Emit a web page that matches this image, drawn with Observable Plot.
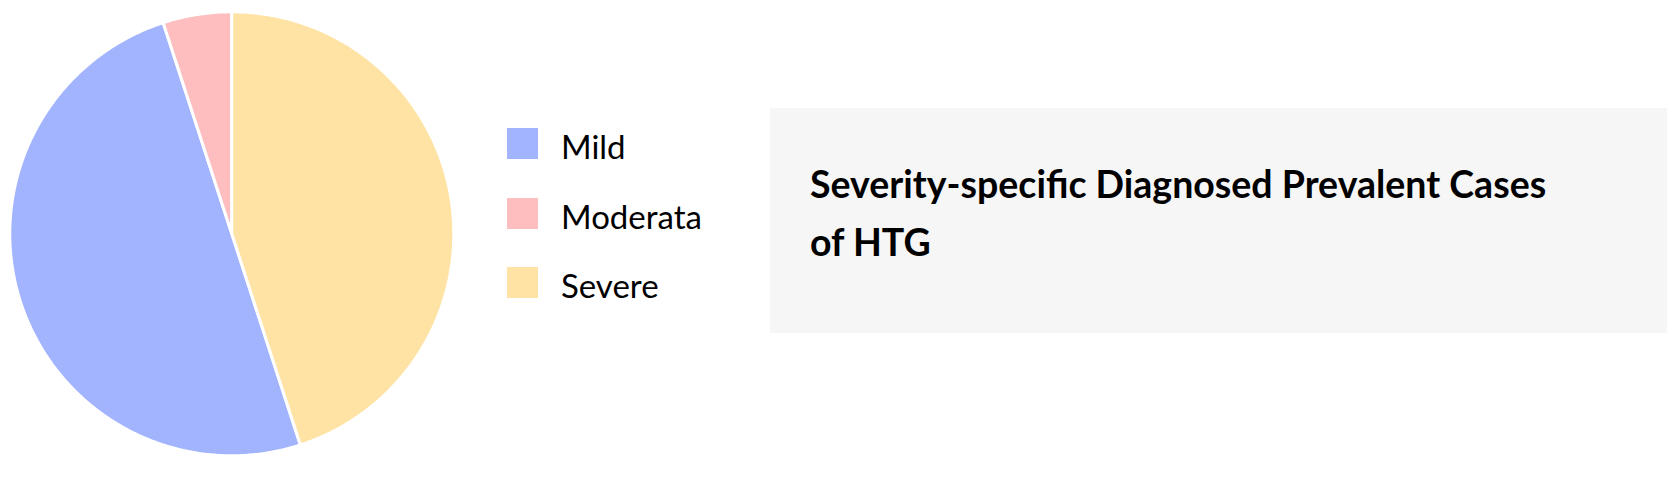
<!DOCTYPE html>
<html>
<head>
<meta charset="utf-8">
<script src="https://cdn.jsdelivr.net/npm/d3@7"></script>
<script src="https://cdn.jsdelivr.net/npm/@observablehq/plot@0.6"></script>
<style>
  html, body { margin: 0; padding: 0; background: #ffffff; }
  #root { position: relative; width: 1667px; height: 485px; overflow: hidden; font-family: Lato, "Noto Sans", sans-serif; }
  #pie { position: absolute; left: 0; top: 0; }
  .legend-row { position: absolute; left: 507px; height: 31px; }
  .swatch { position: absolute; left: 0; top: 0; width: 31px; height: 31px; }
  .legend-label { position: absolute; left: 54px; top: 3px; font-size: 33px; line-height: 31px; color: #000; white-space: nowrap; }
  #titlebox { position: absolute; left: 770px; top: 108px; width: 897px; height: 225px; background: #f6f6f6; }
  #title { position: absolute; left: 40px; top: 47px; font-size: 37.5px; font-weight: 700; line-height: 57.5px; color: #000; white-space: nowrap; }
</style>
</head>
<body>
<div id="root">
  <div id="pie"></div>
  <div id="legend"></div>
  <div id="titlebox"><div id="title"></div></div>
</div>
<script>
// ---- data ----
const categories = ["Mild", "Moderata", "Severe"];
const shares = [50, 5, 45];            // percent of diagnosed prevalent cases
const colors = ["#a3b4fe", "#febebf", "#fee3a4"];
const titleLines = ["Severity-specific Diagnosed Prevalent Cases", "of HTG"];

// ---- pie geometry (unit circle, y down), built from the data ----
const total = d3.sum(shares);
const offset = 2 * Math.PI * shares[shares.length - 1] / total; // last slice ends at 12 o'clock
const arcs = d3.pie().sort(null).startAngle(offset).endAngle(offset + 2 * Math.PI)(shares);
const features = arcs.map((a, i) => {
  const ring = [[0, 0]];
  const n = Math.max(2, Math.ceil((a.endAngle - a.startAngle) / (Math.PI / 360)));
  for (let k = 0; k <= n; k++) {
    const t = a.startAngle + (a.endAngle - a.startAngle) * k / n;
    ring.push([Math.sin(t), -Math.cos(t)]);
  }
  ring.push([0, 0]);
  return {type: "Feature", properties: {label: categories[i], value: shares[i]}, geometry: {type: "Polygon", coordinates: [ring]}};
});

const chart = Plot.plot({
  width: 470,
  height: 485,
  margin: 0,
  projection: d3.geoIdentity().translate([231.3, 233.3]).scale(222),
  color: {domain: categories, range: colors},
  marks: [
    Plot.geo(features, {fill: d => d.properties.label, stroke: "#ffffff", strokeWidth: 3, strokeLinejoin: "round"})
  ]
});
document.getElementById("pie").appendChild(chart);

// ---- legend ----
const legend = document.getElementById("legend");
categories.forEach((c, i) => {
  const row = document.createElement("div");
  row.className = "legend-row";
  row.style.top = (128.3 + i * 69.2) + "px";
  const sw = document.createElement("div");
  sw.className = "swatch";
  sw.style.background = colors[i];
  const lab = document.createElement("div");
  lab.className = "legend-label";
  lab.textContent = c;
  row.appendChild(sw);
  row.appendChild(lab);
  legend.appendChild(row);
});

// ---- title ----
const title = document.getElementById("title");
titleLines.forEach((t, i) => {
  if (i) title.appendChild(document.createElement("br"));
  title.appendChild(document.createTextNode(t));
});
</script>
</body>
</html>
